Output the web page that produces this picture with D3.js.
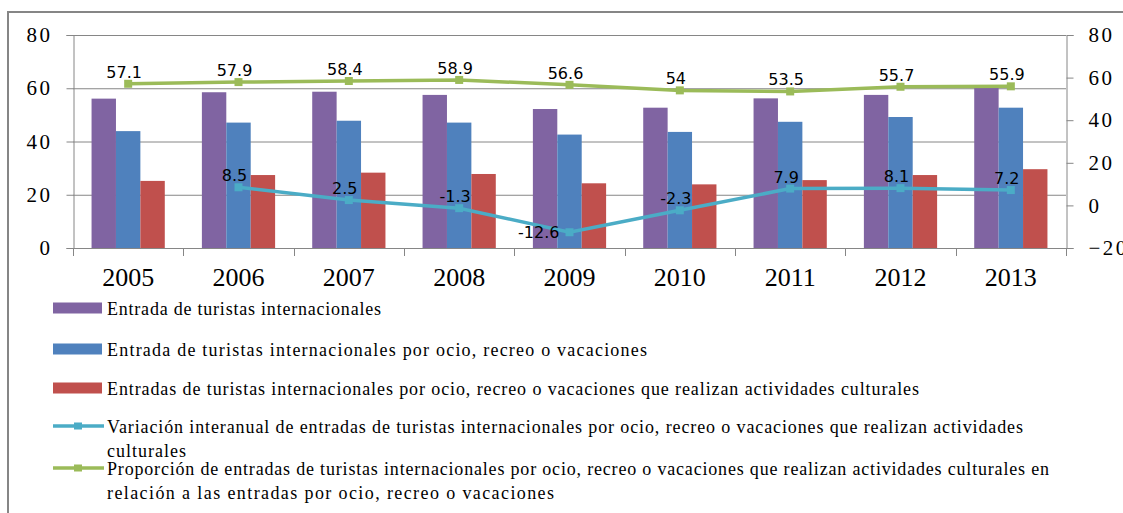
<!DOCTYPE html>
<html>
<head>
<meta charset="utf-8">
<script src="https://cdn.jsdelivr.net/npm/d3@7"></script>
<style>
  body { margin: 0; background: #fff; }
  svg { display: block; }
</style>
</head>
<body>
<svg id="chart" width="1123" height="513"></svg>
<script>
// data
const years = ['2005', '2006', '2007', '2008', '2009', '2010', '2011', '2012', '2013']
const entradas = [56.1, 58.5, 58.7, 57.5, 52.2, 52.7, 56.2, 57.5, 60.4]
const entradasOcio = [43.9, 47.1, 47.8, 47.1, 42.6, 43.6, 47.4, 49.2, 52.7]
const entradasCultura = [25.2, 27.4, 28.3, 27.8, 24.3, 23.9, 25.5, 27.4, 29.6]
const variacion = [null, 8.5, 2.5, -1.3, -12.6, -2.3, 7.9, 8.1, 7.2]
const proporcion = [57.1, 57.9, 58.4, 58.9, 56.6, 54, 53.5, 55.7, 55.9]
const leftTicks = [0, 20, 40, 60, 80]
const rightTicks = [-20, 0, 20, 40, 60, 80]

const barSeries = [
  { key: 'a', values: entradas, color: '#8064A2' },
  { key: 'b', values: entradasOcio, color: '#4F81BD' },
  { key: 'c', values: entradasCultura, color: '#C0504D' },
]
const lineSeries = [
  { values: variacion, color: '#4BACC6' },
  { values: proporcion, color: '#9BBB59' },
]
const legendItems = [
  { type: 'bar', color: '#8064A2', lines: ['Entrada de turistas internacionales'], w: [274] },
  { type: 'bar', color: '#4F81BD', lines: ['Entrada de turistas internacionales por ocio, recreo o vacaciones'], w: [540] },
  { type: 'bar', color: '#C0504D', lines: ['Entradas de turistas internacionales por ocio, recreo o vacaciones que realizan actividades culturales'], w: [812] },
  { type: 'line', color: '#4BACC6', lines: ['Variación interanual de entradas de turistas internacionales  por ocio, recreo o vacaciones que realizan actividades', 'culturales'], w: [916, 79] },
  { type: 'line', color: '#9BBB59', lines: ['Proporción de entradas de turistas internacionales por ocio, recreo o vacaciones que realizan actividades culturales en', 'relación a las entradas por ocio, recreo o vacaciones'], w: [942, 447] },
]
const legendY = [308, 349, 388, 426, 468]

const svg = d3.select('#chart')
const gray = '#868686'
const serif = '"Liberation Serif", "Times New Roman", serif'

// outer frame (runs off the right and bottom edge)
svg.append('rect')
  .attr('x', 8).attr('y', 12)
  .attr('width', 1140).attr('height', 540)
  .attr('fill', 'none').attr('stroke', gray).attr('stroke-width', 2)

const plot = { left: 73, right: 1066, top: 35, bottom: 248 }

const x0 = d3.scaleBand().domain(years).range([plot.left, plot.right])
const x1 = d3.scaleBand().domain(barSeries.map(s => s.key))
  .range([0, x0.bandwidth()]).paddingInner(0).paddingOuter(0.76)
const yL = d3.scaleLinear().domain([0, 80]).range([plot.bottom, plot.top])
const yR = d3.scaleLinear().domain([-20, 80]).range([plot.bottom, plot.top])

// gridlines
svg.append('g').selectAll('line').data(leftTicks).join('line')
  .attr('x1', plot.left).attr('x2', plot.right)
  .attr('y1', d => yL(d) + 0.5).attr('y2', d => yL(d) + 0.5)
  .attr('stroke', gray).attr('stroke-width', 1)

// left axis
const gL = svg.append('g')
  .attr('transform', `translate(${plot.left + 0.5},0)`)
  .call(d3.axisLeft(yL).tickValues(leftTicks).tickSize(7).tickPadding(14))
gL.select('.domain').attr('stroke', gray)
gL.selectAll('.tick line').attr('stroke', gray)
gL.selectAll('text')
  .attr('font-family', serif).attr('font-size', 21).attr('fill', '#000')
  .attr('letter-spacing', 2.5)

// right axis
const gR = svg.append('g')
  .attr('transform', `translate(${plot.right + 0.5},0)`)
  .call(d3.axisRight(yR).tickValues(rightTicks).tickSize(7).tickPadding(15))
gR.select('.domain').attr('stroke', gray)
gR.selectAll('.tick line').attr('stroke', gray)
gR.selectAll('text')
  .attr('font-family', serif).attr('font-size', 21).attr('fill', '#000')
  .attr('letter-spacing', 2.5)

// bottom axis: line, boundary ticks, year labels
const gX = svg.append('g')
gX.append('line')
  .attr('x1', plot.left).attr('x2', plot.right)
  .attr('y1', plot.bottom + 0.5).attr('y2', plot.bottom + 0.5)
  .attr('stroke', gray)
gX.selectAll('.bt').data(years.map(d => x0(d)).concat([plot.right])).join('line')
  .attr('class', 'bt')
  .attr('x1', d => Math.round(d) + 0.5).attr('x2', d => Math.round(d) + 0.5)
  .attr('y1', plot.bottom).attr('y2', plot.bottom + 8)
  .attr('stroke', gray)
gX.selectAll('text').data(years).join('text')
  .attr('x', d => x0(d) + x0.bandwidth() / 2)
  .attr('y', 286)
  .attr('text-anchor', 'middle')
  .attr('font-family', serif).attr('font-size', 26).attr('fill', '#000')
  .text(d => d)

// bars
svg.append('g').selectAll('g').data(barSeries).join('g')
  .attr('fill', s => s.color)
  .selectAll('rect')
  .data(s => s.values.map((v, i) => ({ key: s.key, year: years[i], v })))
  .join('rect')
  .attr('x', d => x0(d.year) + x1(d.key))
  .attr('width', x1.bandwidth())
  .attr('y', d => yL(d.v))
  .attr('height', d => yL(0) - yL(d.v))

// lines on the right axis
const cx = d => x0(d) + x0.bandwidth() / 2
const line = d3.line()
  .defined(d => d.v !== null)
  .x(d => cx(d.year))
  .y(d => yR(d.v))

lineSeries.forEach(s => {
  const pts = s.values.map((v, i) => ({ year: years[i], v }))
  const g = svg.append('g')
  g.append('path')
    .attr('d', line(pts))
    .attr('fill', 'none')
    .attr('stroke', s.color)
    .attr('stroke-width', 3.5)
  const valid = pts.filter(d => d.v !== null)
  g.selectAll('rect').data(valid).join('rect')
    .attr('x', d => cx(d.year) - 4)
    .attr('y', d => yR(d.v) - 4)
    .attr('width', 8).attr('height', 8)
    .attr('fill', s.color)
  const minV = d3.min(valid, d => d.v)
  g.selectAll('text').data(valid).join('text')
    .attr('x', d => d.v === minV && d.v < 0 ? cx(d.year) - 10 : cx(d.year) - 4)
    .attr('y', d => d.v === minV && d.v < 0 ? yR(d.v) + 6 : yR(d.v) - 6)
    .attr('text-anchor', d => d.v === minV && d.v < 0 ? 'end' : 'middle')
    .attr('font-family', '"DejaVu Sans", sans-serif')
    .attr('font-size', 16).attr('fill', '#000')
    .text(d => d.v)
})

// legend
const leg = svg.append('g')
legendItems.forEach((item, i) => {
  const cy = legendY[i]
  if (item.type === 'bar') {
    leg.append('rect')
      .attr('x', 53).attr('y', cy - 5.5)
      .attr('width', 49).attr('height', 11)
      .attr('fill', item.color)
  } else {
    leg.append('line')
      .attr('x1', 53).attr('x2', 104)
      .attr('y1', cy).attr('y2', cy)
      .attr('stroke', item.color).attr('stroke-width', 3.5)
    leg.append('rect')
      .attr('x', 74).attr('y', cy - 3.5)
      .attr('width', 8).attr('height', 7)
      .attr('fill', item.color)
  }
  item.lines.forEach((t, j) => {
    leg.append('text')
      .attr('x', 107)
      .attr('y', cy + 7 + j * 24)
      .attr('font-family', serif).attr('font-size', 18).attr('fill', '#000')
      .attr('textLength', item.w[j])
      .attr('lengthAdjust', 'spacing')
      .text(t)
  })
})
</script>
</body>
</html>
